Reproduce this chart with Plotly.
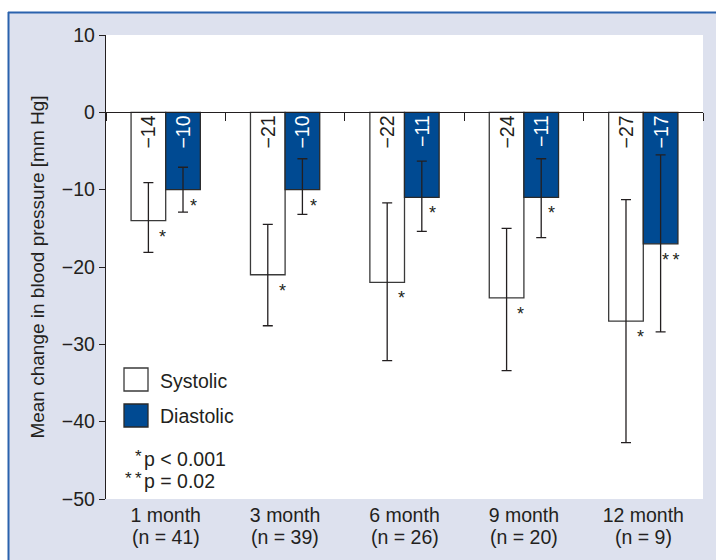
import plotly.graph_objects as go

# ---- data -------------------------------------------------------------
months = ["1 month", "3 month", "6 month", "9 month", "12 month"]
n_patients = [41, 39, 26, 20, 9]

systolic = [-14, -21, -22, -24, -27]
diastolic = [-10, -10, -11, -11, -17]

# ends of the error bars (mm Hg)
systolic_upper = [-9.1, -14.5, -11.7, -15.0, -11.3]
systolic_lower = [-18.1, -27.6, -32.1, -33.4, -42.7]
diastolic_upper = [-7.1, -6.0, -6.3, -6.0, -5.5]
diastolic_lower = [-12.9, -13.2, -15.4, -16.2, -28.4]

systolic_sig = ["*", "*", "*", "*", "*"]
diastolic_sig = ["*", "*", "*", "*", "*\u2009*"]

y_ticks = [10, 0, -10, -20, -30, -40, -50]
y_tick_labels = ["10", "0", "\u221210", "\u221220", "\u221230", "\u221240", "\u221250"]

# ---- styling ----------------------------------------------------------
FONT = "Liberation Sans, Arial, Helvetica, sans-serif"
FS = 19.5
INK = "#231f20"
BLUE = "#004a92"
PANEL = "#dde1ee"
FRAME = "#2a62ad"

W, H = 716, 560
L, R, T, B = 106, 703, 35, 499  # plot area in pixels


def px_x(px):
    return (px - L) / (R - L)


def px_y(py):
    return (B - py) / (B - T)


def minus_label(v):
    return ("\u2212" if v < 0 else "") + str(abs(v))


fig = go.Figure()

fig.add_trace(go.Bar(
    name="Systolic", x=months, y=systolic,
    marker=dict(color="white", line=dict(color="#3a3a3a", width=1.3)),
    error_y=dict(type="data", symmetric=False,
                 array=[u - v for u, v in zip(systolic_upper, systolic)],
                 arrayminus=[v - lo for v, lo in zip(systolic, systolic_lower)],
                 color=INK, thickness=1.3, width=5),
    text=[minus_label(v) for v in systolic],
    textposition="inside", insidetextanchor="start", textangle=-90,
    textfont=dict(family=FONT, size=FS, color=INK),
    showlegend=False, hoverinfo="skip",
))
fig.add_trace(go.Bar(
    name="Diastolic", x=months, y=diastolic,
    marker=dict(color=BLUE, line=dict(color="#2a2a2a", width=1.3)),
    error_y=dict(type="data", symmetric=False,
                 array=[u - v for u, v in zip(diastolic_upper, diastolic)],
                 arrayminus=[v - lo for v, lo in zip(diastolic, diastolic_lower)],
                 color=INK, thickness=1.3, width=5),
    text=[minus_label(v) for v in diastolic],
    textposition="inside", insidetextanchor="start", textangle=-90,
    textfont=dict(family=FONT, size=FS, color="white"),
    showlegend=False, hoverinfo="skip",
))
# empty trace so the zero-line axis (x2) is drawn
fig.add_trace(go.Scatter(x=[None], y=[None], xaxis="x2", yaxis="y",
                         showlegend=False, hoverinfo="skip"))

annotations = []
# significance marks below each bar
for m, v, s in zip(months, systolic, systolic_sig):
    annotations.append(dict(x=m, y=v, xref="x", yref="y", text=s, showarrow=False,
                            xshift=-3, yshift=-16, xanchor="center", yanchor="middle",
                            font=dict(family=FONT, size=18, color=INK)))
for m, v, s in zip(months, diastolic, diastolic_sig):
    annotations.append(dict(x=m, y=v, xref="x", yref="y", text=s, showarrow=False,
                            xshift=28, yshift=-16, xanchor="center", yanchor="middle",
                            font=dict(family=FONT, size=18, color=INK)))

# second line of the category labels
for m, n in zip(months, n_patients):
    annotations.append(dict(x=m, y=px_y(537), xref="x", yref="paper",
                            text=f"(n = {n})", showarrow=False,
                            xanchor="center", yanchor="middle",
                            font=dict(family=FONT, size=FS, color=INK)))

# legend
legend_items = [("Systolic", 381.5), ("Diastolic", 416)]
for label, yc in legend_items:
    annotations.append(dict(x=px_x(158), y=px_y(yc), xref="paper", yref="paper",
                            text=label, showarrow=False, xanchor="left", yanchor="middle",
                            font=dict(family=FONT, size=FS, color=INK)))

# p-value notes
notes = [("*", "p < 0.001", 459), ("*\u2009*", "p = 0.02", 481)]
for stars, txt, yc in notes:
    annotations.append(dict(x=px_x(142), y=px_y(yc), xref="paper", yref="paper",
                            text=txt, showarrow=False, xanchor="left", yanchor="middle",
                            font=dict(family=FONT, size=FS, color=INK)))
    annotations.append(dict(x=px_x(144), y=px_y(yc - 3), xref="paper", yref="paper",
                            text=stars, showarrow=False, xanchor="right", yanchor="middle",
                            font=dict(family=FONT, size=17, color=INK)))

shapes = [
    # white surround outside the framed panel
    dict(type="rect", xref="paper", yref="paper", layer="below",
         x0=px_x(-5), x1=px_x(W + 5), y0=px_y(12), y1=px_y(-5),
         fillcolor="white", line=dict(width=0)),
    dict(type="rect", xref="paper", yref="paper", layer="below",
         x0=px_x(-5), x1=px_x(8), y0=px_y(H + 5), y1=px_y(12),
         fillcolor="white", line=dict(width=0)),
    # frame edges
    dict(type="line", xref="paper", yref="paper",
         x0=px_x(8), x1=px_x(W + 5), y0=px_y(12.5), y1=px_y(12.5),
         line=dict(color=FRAME, width=2)),
    dict(type="line", xref="paper", yref="paper",
         x0=px_x(8.5), x1=px_x(8.5), y0=px_y(12), y1=px_y(H + 5),
         line=dict(color=FRAME, width=2)),
    # legend swatches
    dict(type="rect", xref="paper", yref="paper",
         x0=px_x(124), x1=px_x(148), y0=px_y(391), y1=px_y(368),
         fillcolor="white", line=dict(color="#3a3a3a", width=1.3)),
    dict(type="rect", xref="paper", yref="paper",
         x0=px_x(124), x1=px_x(148), y0=px_y(427), y1=px_y(404),
         fillcolor=BLUE, line=dict(color="#2a2a2a", width=1.3)),
]

fig.update_layout(
    width=W, height=H,
    margin=dict(l=L, r=W - R, t=T, b=H - B, pad=0),
    paper_bgcolor=PANEL, plot_bgcolor="white",
    barmode="group", bargap=0.42, bargroupgap=0,
    font=dict(family=FONT, size=FS, color=INK),
    xaxis=dict(type="category", range=[-0.5, 4.5], showline=False, ticks="",
               showgrid=False, zeroline=False, ticklabelstandoff=2,
               tickfont=dict(family=FONT, size=FS, color=INK)),
    xaxis2=dict(overlaying="x", anchor="free", position=50 / 60, side="bottom",
                range=[0, 5], tickmode="linear", tick0=0, dtick=1,
                showline=True, linecolor=INK, linewidth=1.3,
                ticks="outside", ticklen=8, tickwidth=1.3, tickcolor=INK,
                showticklabels=False, showgrid=False, zeroline=False),
    yaxis=dict(range=[-50, 10], tickmode="array", tickvals=y_ticks, ticktext=y_tick_labels,
               ticks="outside", ticklen=6, tickwidth=1.3, tickcolor=INK,
               showline=True, linecolor=INK, linewidth=1.3,
               showgrid=False, zeroline=False,
               tickfont=dict(family=FONT, size=FS, color=INK),
               title=dict(text="Mean change in blood pressure [mm Hg]", standoff=12,
                          font=dict(family=FONT, size=19, color=INK))),
    annotations=annotations,
    shapes=shapes,
    showlegend=False,
)

fig.write_html("out.html")
